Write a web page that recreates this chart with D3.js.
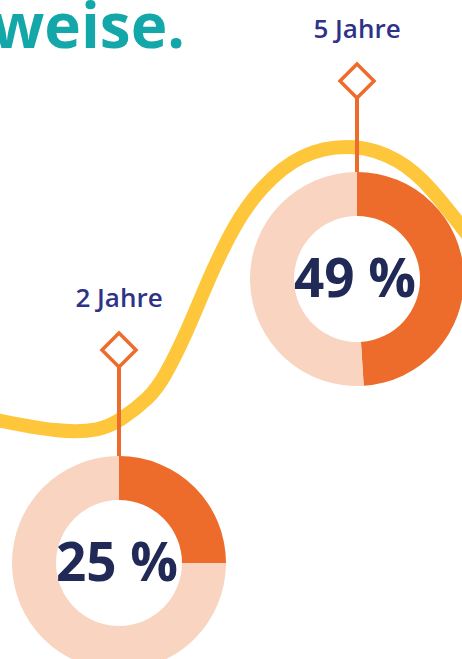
<!DOCTYPE html>
<html>
<head>
<meta charset="utf-8">
<script src="https://cdn.jsdelivr.net/npm/d3@7"></script>
<style>
  html, body { margin: 0; padding: 0; background: #fff; }
  svg { display: block; font-family: 'Open Sans', sans-serif; }
</style>
</head>
<body>
<div id="chart"></div>
<script>
// data
const years = [2, 5];
const yearLabels = ['2 Jahre', '5 Jahre'];
const shares = [25, 49];
// decorative trend line, in year / percent units
const trendYears = [0.37, 1.26, 1.76, 2.01, 2.39, 2.56, 2.87, 3.12, 3.46, 3.78, 4.28, 4.99, 5.54, 5.92, 6.49];
const trendValues = [37.2, 36.0, 36.2, 37.0, 39.0, 40.5, 44.7, 48.9, 53.7, 56.7, 59.7, 60.5, 59.1, 56.9, 51.9];

const width = 462;
const height = 659;
const labelGap = [149, 134];

const svg = d3.select('#chart')
  .append('svg')
    .attr('viewBox', [0, 0, width, height])
    .attr('width', width)
    .attr('height', height);

const x = d3.scaleLinear()
  .domain([2, 5])
  .range([119, 357]);

const y = d3.scaleLinear()
  .domain([25, 49])
  .range([563, 279]);

const outerR = 107;
const innerR = 63;

// heading fragment
svg.append('text')
  .text('weise.')
  .attr('x', 185)
  .attr('y', 48)
  .attr('text-anchor', 'end')
  .attr('fill', '#13a7aa')
  .attr('style', 'font-size:62px;font-weight:700;');

// yellow curve
const trend = trendYears.map((d, i) => [d, trendValues[i]]);
svg.append('path')
  .datum(trend)
  .attr('fill', 'none')
  .attr('stroke', '#fec63a')
  .attr('stroke-width', 14)
  .attr('d', d3.line()
    .x(d => x(d[0]))
    .y(d => y(d[1]))
    .curve(d3.curveBasis));

const arc = d3.arc().innerRadius(innerR).outerRadius(outerR);
const pie = d3.pie().sort(null).value(d => d);

const items = years.map((d, i) => ({
  year: d,
  label: yearLabels[i],
  share: shares[i],
  labelY: y(shares[i]) - outerR - labelGap[i]
}));

const groups = svg.selectAll('g.donut')
  .data(items)
  .join('g')
    .attr('class', 'donut');

// stems
groups.append('line')
  .attr('x1', d => x(d.year))
  .attr('x2', d => x(d.year))
  .attr('y1', d => d.labelY + 58)
  .attr('y2', d => y(d.share) - outerR + 4)
  .attr('stroke', '#ee6c2b')
  .attr('stroke-width', 4);

// diamonds
groups.append('path')
  .attr('transform', d => `translate(${x(d.year)}, ${d.labelY + 43})`)
  .attr('d', 'M0,-17 L17,0 L0,17 L-17,0 Z')
  .attr('fill', '#fff')
  .attr('stroke', '#ee6c2b')
  .attr('stroke-width', 3.5);

// year labels
groups.append('text')
  .text(d => d.label)
  .attr('x', d => x(d.year))
  .attr('y', d => d.labelY)
  .attr('text-anchor', 'middle')
  .attr('fill', '#2e3388')
  .attr('style', 'font-size:26px;font-weight:600;');

// donuts
groups.each(function(d) {
  d3.select(this).append('g')
    .attr('transform', `translate(${x(d.year)}, ${y(d.share)})`)
    .selectAll('path')
    .data(pie([d.share, 100 - d.share]))
    .join('path')
      .attr('d', arc)
      .attr('fill', (p, i) => i === 0 ? '#ee6c2b' : '#f8d4c1');
});

groups.append('text')
  .text(d => d.share + ' %')
  .attr('x', d => x(d.year) - 2)
  .attr('y', d => y(d.share) + 18)
  .attr('text-anchor', 'middle')
  .attr('fill', '#212a56')
  .attr('style', 'font-size:53px;font-weight:700;');
</script>
</body>
</html>
